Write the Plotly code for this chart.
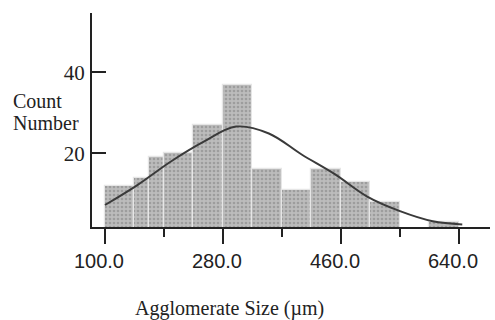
import plotly.graph_objects as go

# Histogram bins (agglomerate size, µm) and counts per bin
bin_edges = [100, 145, 167.5, 190, 235, 280, 325, 370, 415, 460, 505, 550, 595, 640]
counts = [12, 14, 19, 20, 27, 37, 16, 11, 16, 13, 8, 0, 3]

# Fitted distribution curve
curve_x = [100, 150, 200, 250, 300, 350, 400, 450, 500, 550, 600, 645]
curve_y = [7.2, 12.2, 17.9, 22.8, 26.6, 24.9, 19.7, 14.9, 9.3, 5.7, 3.2, 2.4]

major_ticks = [100, 280, 460, 640]
major_labels = ["100.0", "280.0", "460.0", "640.0"]
minor_ticks = [190, 370, 550]
y_ticks = [20, 40]

centers = [(a + b) / 2 for a, b in zip(bin_edges[:-1], bin_edges[1:])]
widths = [b - a for a, b in zip(bin_edges[:-1], bin_edges[1:])]

ink = "#222222"
serif = "Liberation Serif, Times New Roman, serif"
sans = "Liberation Sans, Arial, sans-serif"

fig = go.Figure()
fig.add_trace(go.Bar(
    x=centers, y=counts, width=widths,
    marker=dict(
        color="#b8b8b8",
        line=dict(color="#e6e6e6", width=1.2),
        pattern=dict(shape=".", fgcolor="#7e7e7e", bgcolor="#bcbcbc", size=4, solidity=0.35),
    ),
    showlegend=False,
))
fig.add_trace(go.Scatter(
    x=curve_x, y=curve_y, mode="lines", line=dict(color="#3a3a3a", width=2, shape="spline"),
    showlegend=False,
))

W, H = 398, 214  # plot-area size in px


def px_x(p):
    return (p - 92) / W


def px_y(p):
    return (227 - p) / H


fig.update_layout(
    width=495, height=320,
    margin=dict(l=92, r=5, t=13, b=93),
    paper_bgcolor="white", plot_bgcolor="white",
    bargap=0,
    xaxis=dict(
        range=[80.2, 687.3], showgrid=False, zeroline=False,
        showline=True, linecolor=ink, linewidth=2,
        tickmode="array", tickvals=major_ticks, ticktext=major_labels,
        ticks="outside", ticklen=15, tickwidth=2, tickcolor=ink,
        tickfont=dict(family=sans, size=20, color=ink),
        ticklabelshift=-6,
        minor=dict(tickmode="array", tickvals=minor_ticks, ticks="outside",
                   ticklen=8, tickwidth=2, tickcolor=ink),
    ),
    yaxis=dict(
        range=[1.76, 54.7], showgrid=False, zeroline=False,
        showline=True, linecolor=ink, linewidth=2,
        tickmode="array", tickvals=y_ticks,
        ticks="inside", ticklen=14, tickwidth=2, tickcolor=ink,
        tickfont=dict(family=serif, size=21, color=ink),
        ticklabelstandoff=1,
    ),
    annotations=[
        dict(text="Count", xref="paper", yref="paper", x=px_x(11), y=px_y(101),
             xanchor="left", yanchor="middle", showarrow=False,
             font=dict(family=serif, size=20, color=ink)),
        dict(text="Number", xref="paper", yref="paper", x=px_x(11), y=px_y(123),
             xanchor="left", yanchor="middle", showarrow=False,
             font=dict(family=serif, size=20, color=ink)),
        dict(text="Agglomerate Size (µm)", xref="paper", yref="paper", x=px_x(229), y=px_y(308),
             xanchor="center", yanchor="middle", showarrow=False,
             font=dict(family=serif, size=20, color=ink)),
    ],
)

fig.write_html("out.html")
